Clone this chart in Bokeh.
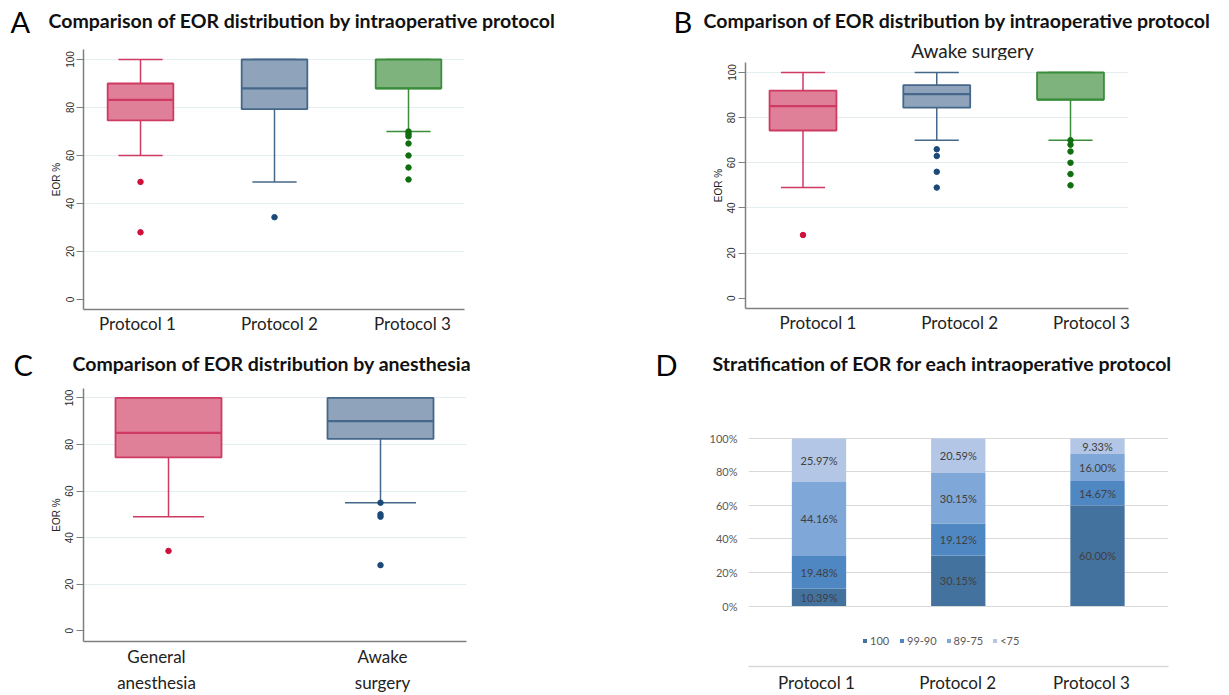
import math
from bokeh.plotting import figure
from bokeh.models import Range1d, FixedTicker, Label, Legend, LegendItem, ColumnDataSource
from bokeh.layouts import row, column
from bokeh.embed import file_html
from bokeh.resources import INLINE
from bokeh.core.properties import value

# ---------------- data ----------------
protocols = ["Protocol 1", "Protocol 2", "Protocol 3"]
anesthesia_groups = ["General\nanesthesia", "Awake\nsurgery"]

# Panel A: all patients by protocol (box plot summary)
a_lower = [60, 49, 70]
a_q1 = [74.6, 79.3, 88]
a_median = [83.2, 88, 88]
a_q3 = [90, 100, 100]
a_upper = [100, 100, 100]
a_outliers = [[49, 28], [34.3], [70, 69, 68, 65, 60, 55, 50]]

# Panel B: awake surgery by protocol
b_lower = [49, 70, 70]
b_q1 = [74.3, 84.4, 88]
b_median = [85.1, 90.4, 88]
b_q3 = [92, 94.4, 100]
b_upper = [100, 100, 100]
b_outliers = [[28], [66, 63, 56, 49], [70, 68, 65, 60, 55, 50]]

# Panel C: by anesthesia
c_lower = [49, 55]
c_q1 = [74.5, 82.4]
c_median = [85, 90]
c_q3 = [100, 100]
c_upper = [100, 100]
c_outliers = [[34.3], [55, 50, 49, 28.2]]

# Panel D: stratification (%)
eor_classes = ["100", "99-90", "89-75", "<75"]
d_100 = [10.39, 30.15, 60.00]
d_99_90 = [19.48, 19.12, 14.67]
d_89_75 = [44.16, 30.15, 16.00]
d_lt75 = [25.97, 20.59, 9.33]

# ---------------- style ----------------
FONT = "Lato"
TICK_FONT = "Liberation Sans"
FILLS = ["#E07F98", "#8FA4BA", "#7EB37E"]
EDGES = ["#CF3A63", "#44678A", "#3A8D3A"]
DOTS = ["#D0103A", "#1C4A78", "#106E10"]
D_COLORS = ["#44729E", "#4F87C2", "#7FA7D7", "#B3C6E5"]
TITLE_SIZE = 19.5
LETTER_SIZE = 29


def no_align(p):
    try:
        p.frame_align = False
    except Exception:
        pass


def header(fig_x, fig_y, fig_w, fig_h):
    """Empty text-only figure whose data coordinates equal page pixels."""
    p = figure(width=fig_w, height=fig_h, x_range=Range1d(fig_x, fig_x + fig_w),
               y_range=Range1d(fig_y + fig_h, fig_y), output_backend="svg",
               toolbar_location=None, x_axis_location=None, y_axis_location=None,
               min_border=0, min_border_left=0, min_border_right=0,
               min_border_top=0, min_border_bottom=0)
    p.outline_line_color = None
    p.xgrid.visible = False
    p.ygrid.visible = False
    no_align(p)
    return p


def htext(p, x, y_mid, text, size, bold=False, align="left", color="#111111"):
    p.add_layout(Label(x=x, y=y_mid, text=text, text_font=FONT,
                       text_font_size=f"{size}px", text_font_style="bold" if bold else "normal",
                       text_align=align, text_baseline="middle", text_color=color))


def panel(fig_x, fig_y, fig_w, fig_h, fl, fr, ft, fb, c1px, ppu, p100, p0):
    """Figure whose frame sits at page pixels (fl..fr, ft..fb)."""
    x0 = 1 - (c1px - fl) / ppu
    x1 = x0 + (fr - fl) / ppu
    ppy = (p0 - p100) / 100.0
    y0 = -(fb - p0) / ppy
    y1 = 100 + (p100 - ft) / ppy
    p = figure(width=fig_w, height=fig_h, x_range=Range1d(x0, x1), y_range=Range1d(y0, y1),
               output_backend="svg", toolbar_location=None,
               min_border_left=fl - fig_x, min_border_right=fig_x + fig_w - fr,
               min_border_top=ft - fig_y, min_border_bottom=fig_y + fig_h - fb)
    p.outline_line_color = None
    no_align(p)
    return p


def boxplot(p, n, lower, q1, med, q3, upper, outliers, box_w=0.49, cap_w=0.33):
    xs = list(range(1, n + 1))
    src = ColumnDataSource(dict(
        x=xs, lo=lower, q1=q1, med=med, q3=q3, hi=upper,
        bx0=[x - box_w / 2 for x in xs], bx1=[x + box_w / 2 for x in xs],
        cx0=[x - cap_w / 2 for x in xs], cx1=[x + cap_w / 2 for x in xs],
        fill=FILLS[:n], edge=EDGES[:n]))
    p.segment(x0="x", y0="q3", x1="x", y1="hi", line_color="edge", line_width=1.5, source=src)
    p.segment(x0="x", y0="lo", x1="x", y1="q1", line_color="edge", line_width=1.5, source=src)
    p.segment(x0="cx0", y0="hi", x1="cx1", y1="hi", line_color="edge", line_width=1.5, source=src)
    p.segment(x0="cx0", y0="lo", x1="cx1", y1="lo", line_color="edge", line_width=1.5, source=src)
    p.vbar(x="x", width=box_w, bottom="q1", top="q3", fill_color="fill", line_color="edge",
           line_width=1.8, source=src)
    p.segment(x0="bx0", y0="med", x1="bx1", y1="med", line_color="edge", line_width=2.2, source=src)
    for i, outs in enumerate(outliers):
        p.scatter(x=[i + 1] * len(outs), y=outs, size=5.5, marker="circle",
                  fill_color=DOTS[i], line_color=DOTS[i])


def style_box_axes(p, ppu, labels, label_offsets_px, size=17, line_height=1.2, standoff=3):
    ticks = [i + 1 + off / ppu for i, off in enumerate(label_offsets_px)]
    xa = p.xaxis[0]
    xa.ticker = FixedTicker(ticks=ticks)
    xa.major_label_overrides = {t: l for t, l in zip(ticks, labels)}
    xa.major_tick_line_color = None
    xa.major_tick_out = 0
    xa.major_tick_in = 0
    xa.minor_tick_line_color = None
    xa.major_label_text_font = FONT
    xa.major_label_text_font_size = f"{size}px"
    xa.major_label_text_color = "#222222"
    xa.major_label_text_line_height = line_height
    xa.major_label_standoff = standoff
    xa.axis_line_color = "#7f7f7f"
    xa.axis_line_width = 1.5
    ya = p.yaxis[0]
    ya.ticker = FixedTicker(ticks=[0, 20, 40, 60, 80, 100])
    ya.major_label_orientation = "parallel"
    ya.major_label_text_font = TICK_FONT
    ya.major_label_text_font_size = "10px"
    ya.major_label_text_color = "#2a2a2a"
    ya.major_label_standoff = 3
    ya.major_tick_out = 7
    ya.major_tick_in = 0
    ya.major_tick_line_color = "#7f7f7f"
    ya.minor_tick_line_color = None
    ya.axis_line_color = "#7f7f7f"
    ya.axis_line_width = 1.5
    ya.axis_label = "EOR %"
    ya.axis_label_text_font = TICK_FONT
    ya.axis_label_text_font_size = "10px"
    ya.axis_label_text_font_style = "normal"
    ya.axis_label_text_color = "#222222"
    ya.axis_label_standoff = 1
    p.xgrid.visible = False
    p.ygrid.ticker = FixedTicker(ticks=[20, 40, 60, 80, 100])
    p.ygrid.grid_line_color = "#e4edf0"
    p.ygrid.grid_line_width = 1


TITLE_PROTO = "Comparison of EOR distribution by intraoperative protocol"

# ---------------- Panel A ----------------
hA = header(0, 0, 630, 45)
htext(hA, 10, 21, "A", LETTER_SIZE, color="#000000")
htext(hA, 48, 20, TITLE_PROTO, TITLE_SIZE, bold=True)
pA = panel(0, 45, 630, 295, 83, 464, 49, 309, 140, 134, 59, 299)
boxplot(pA, 3, a_lower, a_q1, a_median, a_q3, a_upper, a_outliers)
style_box_axes(pA, 134, protocols, [-3, 5, 4])

# ---------------- Panel B ----------------
hB = header(630, 0, 599, 60)
htext(hB, 673, 21, "B", LETTER_SIZE, color="#000000")
htext(hB, 703, 20, TITLE_PROTO, TITLE_SIZE, bold=True)
htext(hB, 972, 49.5, "Awake surgery", 19, align="center", color="#222222")
pB = panel(630, 60, 599, 280, 745, 1128, 62, 308, 802.5, 133.75, 72, 297.7)
boxplot(pB, 3, b_lower, b_q1, b_median, b_q3, b_upper, b_outliers, box_w=0.5)
style_box_axes(pB, 133.75, protocols, [15, 23, 21])

# ---------------- Panel C ----------------
hC = header(0, 340, 630, 45)
htext(hC, 13, 364, "C", LETTER_SIZE, color="#000000")
htext(hC, 72, 362.5, "Comparison of EOR distribution by anesthesia", TITLE_SIZE, bold=True)
pC = panel(0, 385, 630, 310, 83, 466, 388, 648, 168, 212, 397.7, 637)
boxplot(pC, 2, c_lower, c_q1, c_median, c_q3, c_upper, c_outliers, box_w=0.5, cap_w=0.335)
style_box_axes(pC, 212, anesthesia_groups, [-12, 2], size=17, line_height=1.25, standoff=4)

# ---------------- Panel D ----------------
hD = header(630, 340, 599, 85)
htext(hD, 655, 364, "D", LETTER_SIZE, color="#000000")
htext(hD, 712, 362.5, "Stratification of EOR for each intraoperative protocol", TITLE_SIZE, bold=True)
pD = panel(630, 425, 599, 270, 748, 1168, 430, 668, 818.5, 139.25, 438, 607)
keys = ["c100", "c99_90", "c89_75", "clt75"]
dsrc = ColumnDataSource(dict(x=[1, 2, 3], c100=d_100, c99_90=d_99_90, c89_75=d_89_75, clt75=d_lt75))
rs = pD.vbar_stack(keys, x="x", width=0.39, color=D_COLORS, line_color=None, source=dsrc)

lx, ly, lt = [], [], []
for i in range(3):
    base = 0.0
    for vals in (d_100, d_99_90, d_89_75, d_lt75):
        v = vals[i]
        lx.append(i + 1)
        ly.append(base + v / 2)
        lt.append(f"{v:.2f}%")
        base += v
pD.text(x=lx, y=ly, text=lt, text_align="center", text_baseline="middle",
        text_font=value(FONT), text_font_size="11px", text_color="#404040")

legend = Legend(items=[LegendItem(label=c, renderers=[r]) for c, r in zip(eor_classes, rs)],
                location=(114, 19), orientation="horizontal", glyph_width=5, glyph_height=5,
                label_height=5, label_standoff=3, spacing=9, padding=0, margin=0,
                background_fill_alpha=0, border_line_color=None,
                label_text_font=FONT, label_text_font_size="11px", label_text_color="#595959")
pD.add_layout(legend)

xd = pD.xaxis[0]
dticks = [i + 1 + off / 139.25 for i, off in enumerate([-2.5, -0.5, -6])]
xd.ticker = FixedTicker(ticks=dticks)
xd.major_label_overrides = {t: l for t, l in zip(dticks, protocols)}
xd.major_tick_line_color = None
xd.major_tick_out = 0
xd.major_tick_in = 0
xd.minor_tick_line_color = None
xd.major_label_text_font = FONT
xd.major_label_text_font_size = "17px"
xd.major_label_text_color = "#222222"
xd.major_label_standoff = 5
xd.axis_line_color = "#d9d9d9"
xd.axis_line_width = 1.5
yd = pD.yaxis[0]
yd.ticker = FixedTicker(ticks=[0, 20, 40, 60, 80, 100])
yd.major_label_overrides = {t: f"{t}%" for t in [0, 20, 40, 60, 80, 100]}
yd.major_label_text_font = FONT
yd.major_label_text_font_size = "11px"
yd.major_label_text_color = "#595959"
yd.major_label_standoff = 11
yd.major_tick_line_color = None
yd.major_tick_out = 0
yd.minor_tick_line_color = None
yd.axis_line_color = None
pD.xgrid.visible = False
pD.ygrid.ticker = FixedTicker(ticks=[0, 20, 40, 60, 80, 100])
pD.ygrid.grid_line_color = "#d9d9d9"

layout = row(column(hA, pA, hC, pC), column(hB, pB, hD, pD))
open("out.html", "w").write(file_html(layout, INLINE))
